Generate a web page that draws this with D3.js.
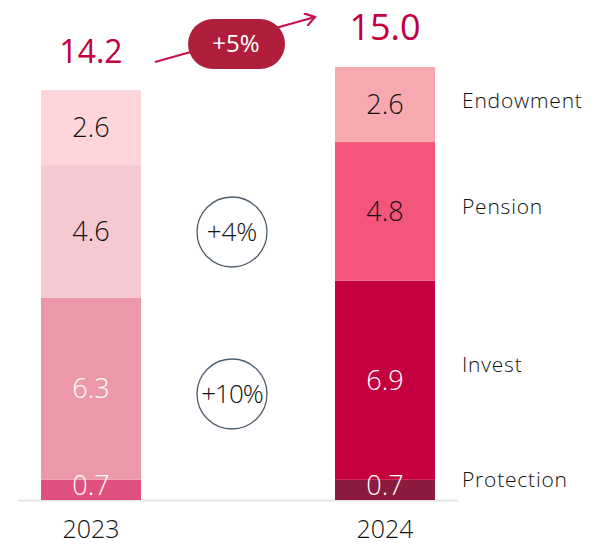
<!DOCTYPE html>
<html>
<head>
<meta charset="utf-8">
<script src="https://cdn.jsdelivr.net/npm/d3@7"></script>
<style>
  body { margin: 0; background: #fff; }
  text { font-family: 'Open Sans', sans-serif; font-weight: 300; }
</style>
</head>
<body>
<div id="chart"></div>
<script>
// data
const years = ['2023', '2024']
const segments = ['Protection', 'Invest', 'Pension', 'Endowment']
const values2023 = [0.7, 6.3, 4.6, 2.6]
const values2024 = [0.7, 6.9, 4.8, 2.6]
const totals = ['14.2', '15.0']
const growthLabel = '+5%'
const changeLabels = ['+10%', '+4%'] // invest+protection, pension+endowment

const colors = {
  '2023': ['#e0507e', '#ec98a8', '#f5c8d2', '#fdd5da'],
  '2024': ['#8c1a3e', '#c4003f', '#f45679', '#f8a9b0']
}
const valueFill = ['#fff', '#fff', '#111', '#111']

const W = 598, H = 547
const svg = d3.select('#chart').append('svg')
  .attr('width', W)
  .attr('height', H)

const x = d3.scalePoint().domain(years).range([91, 385])
const y = d3.scaleLinear().domain([0, 15]).range([500, 67])
const barW = 100

// stack
const stacked = years.map((yr, i) => {
  const vals = i === 0 ? values2023 : values2024
  let acc = 0
  return vals.map((v, j) => {
    const d = { year: yr, seg: segments[j], v, y0: acc, y1: acc + v, j }
    acc += v
    return d
  })
})

// axis line
svg.append('line')
  .attr('x1', 18).attr('x2', 458)
  .attr('y1', y(0) + 0.5).attr('y2', y(0) + 0.5)
  .attr('stroke', '#e2e6ea')
  .attr('stroke-width', 2)

const bars = svg.selectAll('.bar')
  .data(stacked)
  .enter().append('g')
  .attr('class', 'bar')

bars.selectAll('rect')
  .data(d => d)
  .enter().append('rect')
  .attr('x', d => x(d.year) - barW / 2)
  .attr('width', barW)
  .attr('y', d => y(d.y1))
  .attr('height', d => y(d.y0) - y(d.y1))
  .attr('fill', d => colors[d.year][d.j])

bars.selectAll('text')
  .data(d => d)
  .enter().append('text')
  .attr('x', d => x(d.year))
  .attr('y', d => Math.min((y(d.y0) + y(d.y1)) / 2, y(0) - 14))
  .attr('dy', '0.35em')
  .attr('text-anchor', 'middle')
  .attr('font-size', 27)
  .attr('fill', d => valueFill[d.j])
  .text(d => d.v.toFixed(1))

// year labels
svg.selectAll('.year')
  .data(years)
  .enter().append('text')
  .attr('class', 'year')
  .attr('x', d => x(d))
  .attr('y', 529)
  .attr('dy', '0.35em')
  .attr('text-anchor', 'middle')
  .attr('font-size', 25)
  .attr('fill', '#111')
  .text(d => d)

// totals
svg.selectAll('.total')
  .data(totals)
  .enter().append('text')
  .attr('class', 'total')
  .attr('x', (d, i) => x(years[i]))
  .attr('y', (d, i) => y(+d) - 27)
  .attr('text-anchor', 'middle')
  .attr('font-size', (d, i) => i === 0 ? 32 : 36)
  .style('font-weight', 500)
  .attr('fill', '#c0003f')
  .text(d => d)

// right side segment labels
const labelNudge = [-10, -16, -5, -4]
const last = stacked[1]
svg.selectAll('.seglabel')
  .data(last)
  .enter().append('text')
  .attr('class', 'seglabel')
  .attr('x', 462)
  .attr('y', (d, i) => (y(d.y0) + y(d.y1)) / 2 + labelNudge[i])
  .attr('dy', '0.35em')
  .attr('font-size', 21)
  .attr('letter-spacing', 0.8)
  .attr('fill', '#111')
  .text(d => d.seg)

// growth arrow
svg.append('defs').append('marker')
  .attr('id', 'arrow')
  .attr('viewBox', '0 0 12 12')
  .attr('refX', 10).attr('refY', 6)
  .attr('markerWidth', 13).attr('markerHeight', 13)
  .attr('markerUnits', 'userSpaceOnUse')
  .attr('orient', 'auto')
  .append('path')
  .attr('d', 'M1,0 L10,6 L1,12')
  .attr('fill', 'none')
  .attr('stroke', '#c8104a')
  .attr('stroke-width', 2)

svg.append('line')
  .attr('x1', 155).attr('y1', 62)
  .attr('x2', 315).attr('y2', 17)
  .attr('stroke', '#c8104a')
  .attr('stroke-width', 2)
  .attr('marker-end', 'url(#arrow)')

svg.append('rect')
  .attr('x', 188).attr('y', 19)
  .attr('width', 97).attr('height', 50)
  .attr('rx', 25)
  .attr('fill', '#b01e3c')

svg.append('text')
  .attr('x', 236).attr('y', 44)
  .attr('dy', '0.35em')
  .attr('text-anchor', 'middle')
  .attr('font-size', 24)
  .style('font-weight', 400)
  .attr('fill', '#fff')
  .text(growthLabel)

// change circles, centred between the bars on the grouped segments
const groups = [[0, 1], [2, 3]]
const cx = (x(years[0]) + x(years[1])) / 2 - 6
const circleY = [394, 232]
groups.forEach((g, i) => {
  const c = svg.append('g').attr('transform', `translate(${cx},${circleY[i]})`)
  c.append('circle')
    .attr('r', 35)
    .attr('fill', '#fff')
    .attr('stroke', '#4d5d6d')
    .attr('stroke-width', 1.3)
  c.append('text')
    .attr('text-anchor', 'middle')
    .attr('dy', '0.35em')
    .attr('font-size', 26)
    .attr('letter-spacing', i === 0 ? -1 : 0)
    .attr('fill', '#111')
    .text(changeLabels[i])
})
</script>
</body>
</html>
